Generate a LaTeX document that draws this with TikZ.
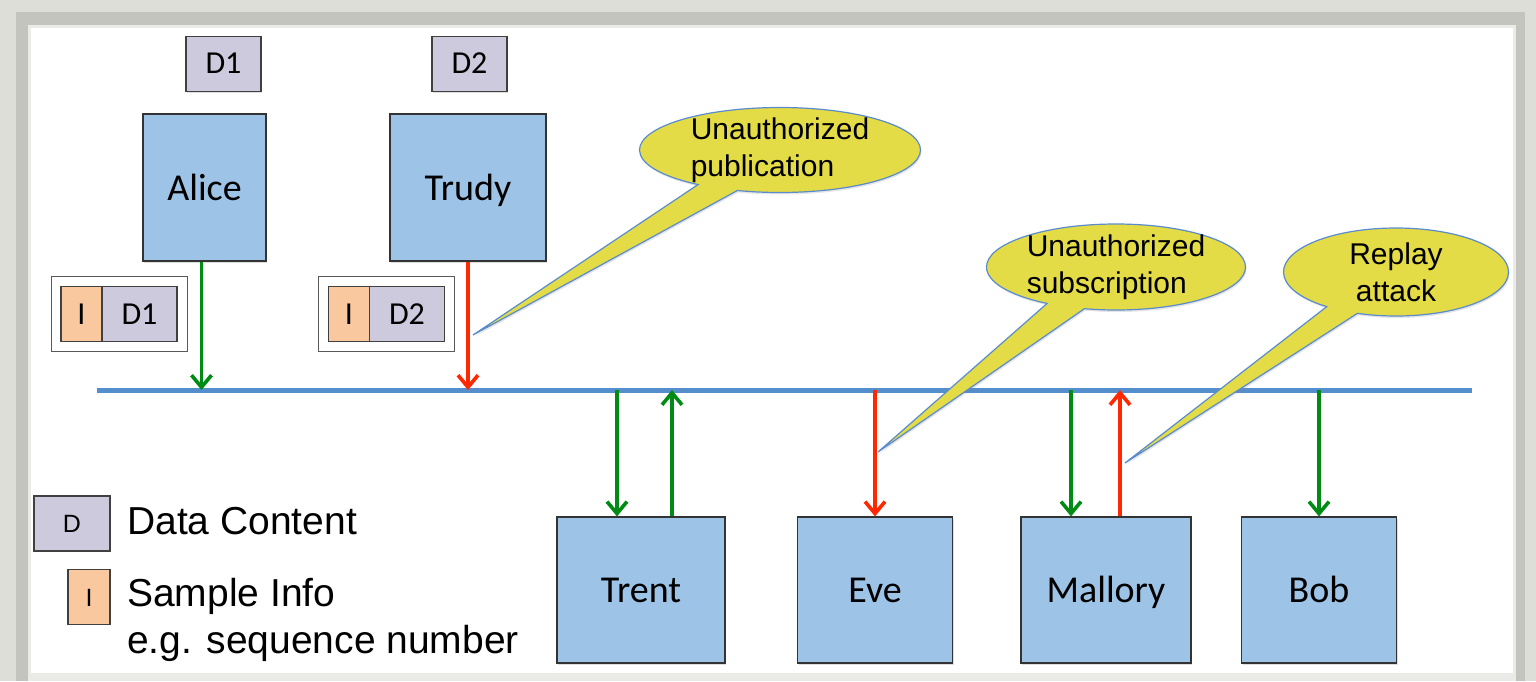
\documentclass[tikz,border=0pt]{standalone}
\usepackage{fontspec}
\setmainfont{Liberation Sans}
\newfontfamily\calibri{Carlito}
\usepackage{tikz}
\usetikzlibrary{positioning, fit, shapes.callouts, shadows, arrows.meta}
\definecolor{frameout}{RGB}{222, 222, 216}
\definecolor{framemid}{RGB}{196, 196, 190}
\definecolor{framein}{RGB}{234, 234, 230}
\definecolor{partyblue}{RGB}{157, 195, 230}
\definecolor{datalilac}{RGB}{206, 202, 221}
\definecolor{infopeach}{RGB}{250, 200, 158}
\definecolor{noteyellow}{RGB}{228, 220, 70}
\definecolor{noteline}{RGB}{90, 140, 205}
\definecolor{busblue}{RGB}{85, 142, 205}
\definecolor{okgreen}{RGB}{0, 140, 20}
\definecolor{badred}{RGB}{255, 40, 0}

\begin{document}
\begin{tikzpicture}[
    x=1pt, y=-1pt,
    party/.style={rectangle, draw=black!80, line width=1.2pt, fill=partyblue, minimum height=147pt, inner sep=0pt, text height=25pt, text depth=0pt, font=\calibri\fontsize{38}{44}\selectfont, drop shadow={shadow xshift=1pt, shadow yshift=-2pt, opacity=0.25}},
    datum/.style={rectangle, draw=black!75, line width=1.2pt, fill=datalilac, minimum width=75pt, minimum height=55pt, inner sep=0pt, outer sep=0pt, text height=20pt, text depth=0pt, font=\calibri\fontsize{32}{36}\selectfont},
    info/.style={datum, fill=infopeach, minimum width=41pt},
    pktframe/.style={rectangle, draw=black!65, line width=1pt, inner sep=10pt},
    remark/.style={ellipse callout, draw=noteline, line width=1.2pt, fill=noteyellow, align=left, inner xsep=-10pt, inner ysep=-12pt, callout pointer arc=18, font=\fontsize{30}{37}\selectfont, drop shadow={shadow xshift=1pt, shadow yshift=-2pt, opacity=0.2}},
    keytext/.style={anchor=west, align=left, inner sep=0pt, font=\fontsize{39}{47}\selectfont},
    bus/.style={draw=busblue, line width=5pt},
    good/.style={draw=okgreen, line width=3.6pt, -{Straight Barb[length=12pt, width=20pt]}},
    bad/.style={good, draw=badred}
]
% background frame
\fill[frameout] (0,0) rectangle (1536,681);
\fill[framemid] (16,12) rectangle (1525,681);
\fill[framein] (28,25) rectangle (1516,681);
\fill[white] (31,28) rectangle (1513,673);
\useasboundingbox (0,0) rectangle (1536,681);

% publishers
\node[party, minimum width=123pt] (alice) at (204.5,187.5) {Alice};
\node[party, minimum width=156pt] (trudy) at (468,187.5) {Trudy};
\node[datum, above=22pt of alice, xshift=19pt, drop shadow={shadow xshift=1pt, shadow yshift=-2pt, opacity=0.25}] (d1) {D1};
\node[datum, above=22pt of trudy, xshift=1.5pt, drop shadow={shadow xshift=1pt, shadow yshift=-2pt, opacity=0.25}] (d2) {D2};

% samples on the wire
\node[info] (ia) at (81.5,314) {I};
\node[datum, right=0pt of ia] (da) {D1};
\node[pktframe, fit=(ia)(da)] (pkta) {};
\node[info] (it) at (349,314) {I};
\node[datum, right=0pt of it] (dt) {D2};
\node[pktframe, fit=(it)(dt)] (pktt) {};

% bus
\coordinate (busL) at (97,390);
\coordinate (busR) at (1472,390);
\draw[bus] (busL) -- (busR);

% subscribers
\node[party, minimum width=168pt, minimum height=146pt] (trent) at (641,590) {Trent};
\node[party, minimum width=155pt, minimum height=146pt] (eve) at (875,590) {Eve};
\node[party, minimum width=170pt, minimum height=146pt] (mallory) at (1106,590) {Mallory};
\node[party, minimum width=155pt, minimum height=146pt] (bob) at (1319,590) {Bob};

% taps
\coordinate (alicetap) at ([xshift=-3pt]alice.south);
\coordinate (trentin) at ([xshift=-24pt]trent.north);
\coordinate (trentout) at ([xshift=31pt]trent.north);
\coordinate (mallin) at ([xshift=-35pt]mallory.north);
\coordinate (mallout) at ([xshift=14pt]mallory.north);

\draw[good] (alicetap) -- (alicetap |- busL);
\draw[bad] (trudy.south) -- (trudy.south |- busL);
\draw[good] (trentin |- busL) -- (trentin);
\draw[good] (trentout) -- (trentout |- busL);
\draw[bad] (eve.north |- busL) -- (eve.north);
\draw[good] (mallin |- busL) -- (mallin);
\draw[bad] (mallout) -- (mallout |- busL);
\draw[good] (bob.north |- busL) -- (bob.north);

% callouts
\coordinate (pubtip) at (473,335);
\coordinate (subtip) at (878,452);
\coordinate (replaytip) at (1125,463);
\node[remark, minimum width=281pt, minimum height=85pt, callout absolute pointer={(pubtip)}] (pubnote) at (780,150) {Unauthorized\\publication};
\node[remark, minimum width=259pt, minimum height=86pt, callout absolute pointer={(subtip)}] (subnote) at (1116,267) {Unauthorized\\subscription};
\node[remark, align=center, minimum width=225pt, minimum height=88pt, callout absolute pointer={(replaytip)}] (replaynote) at (1396,272) {Replay\\attack};

% legend
\node[datum, minimum width=76pt, text height=18pt, font=\fontsize{25}{30}\selectfont] (keyd) at (72,523.5) {D};
\node[info, minimum width=42pt, text height=18pt, font=\fontsize{25}{30}\selectfont] (keyi) at (89,597) {I};
\node[keytext] (keydtext) at (127,521) {Data Content};
\node[keytext] (keyitext) at (127,620) {Sample Info\\e.g. sequence number};
\end{tikzpicture}
\end{document}
